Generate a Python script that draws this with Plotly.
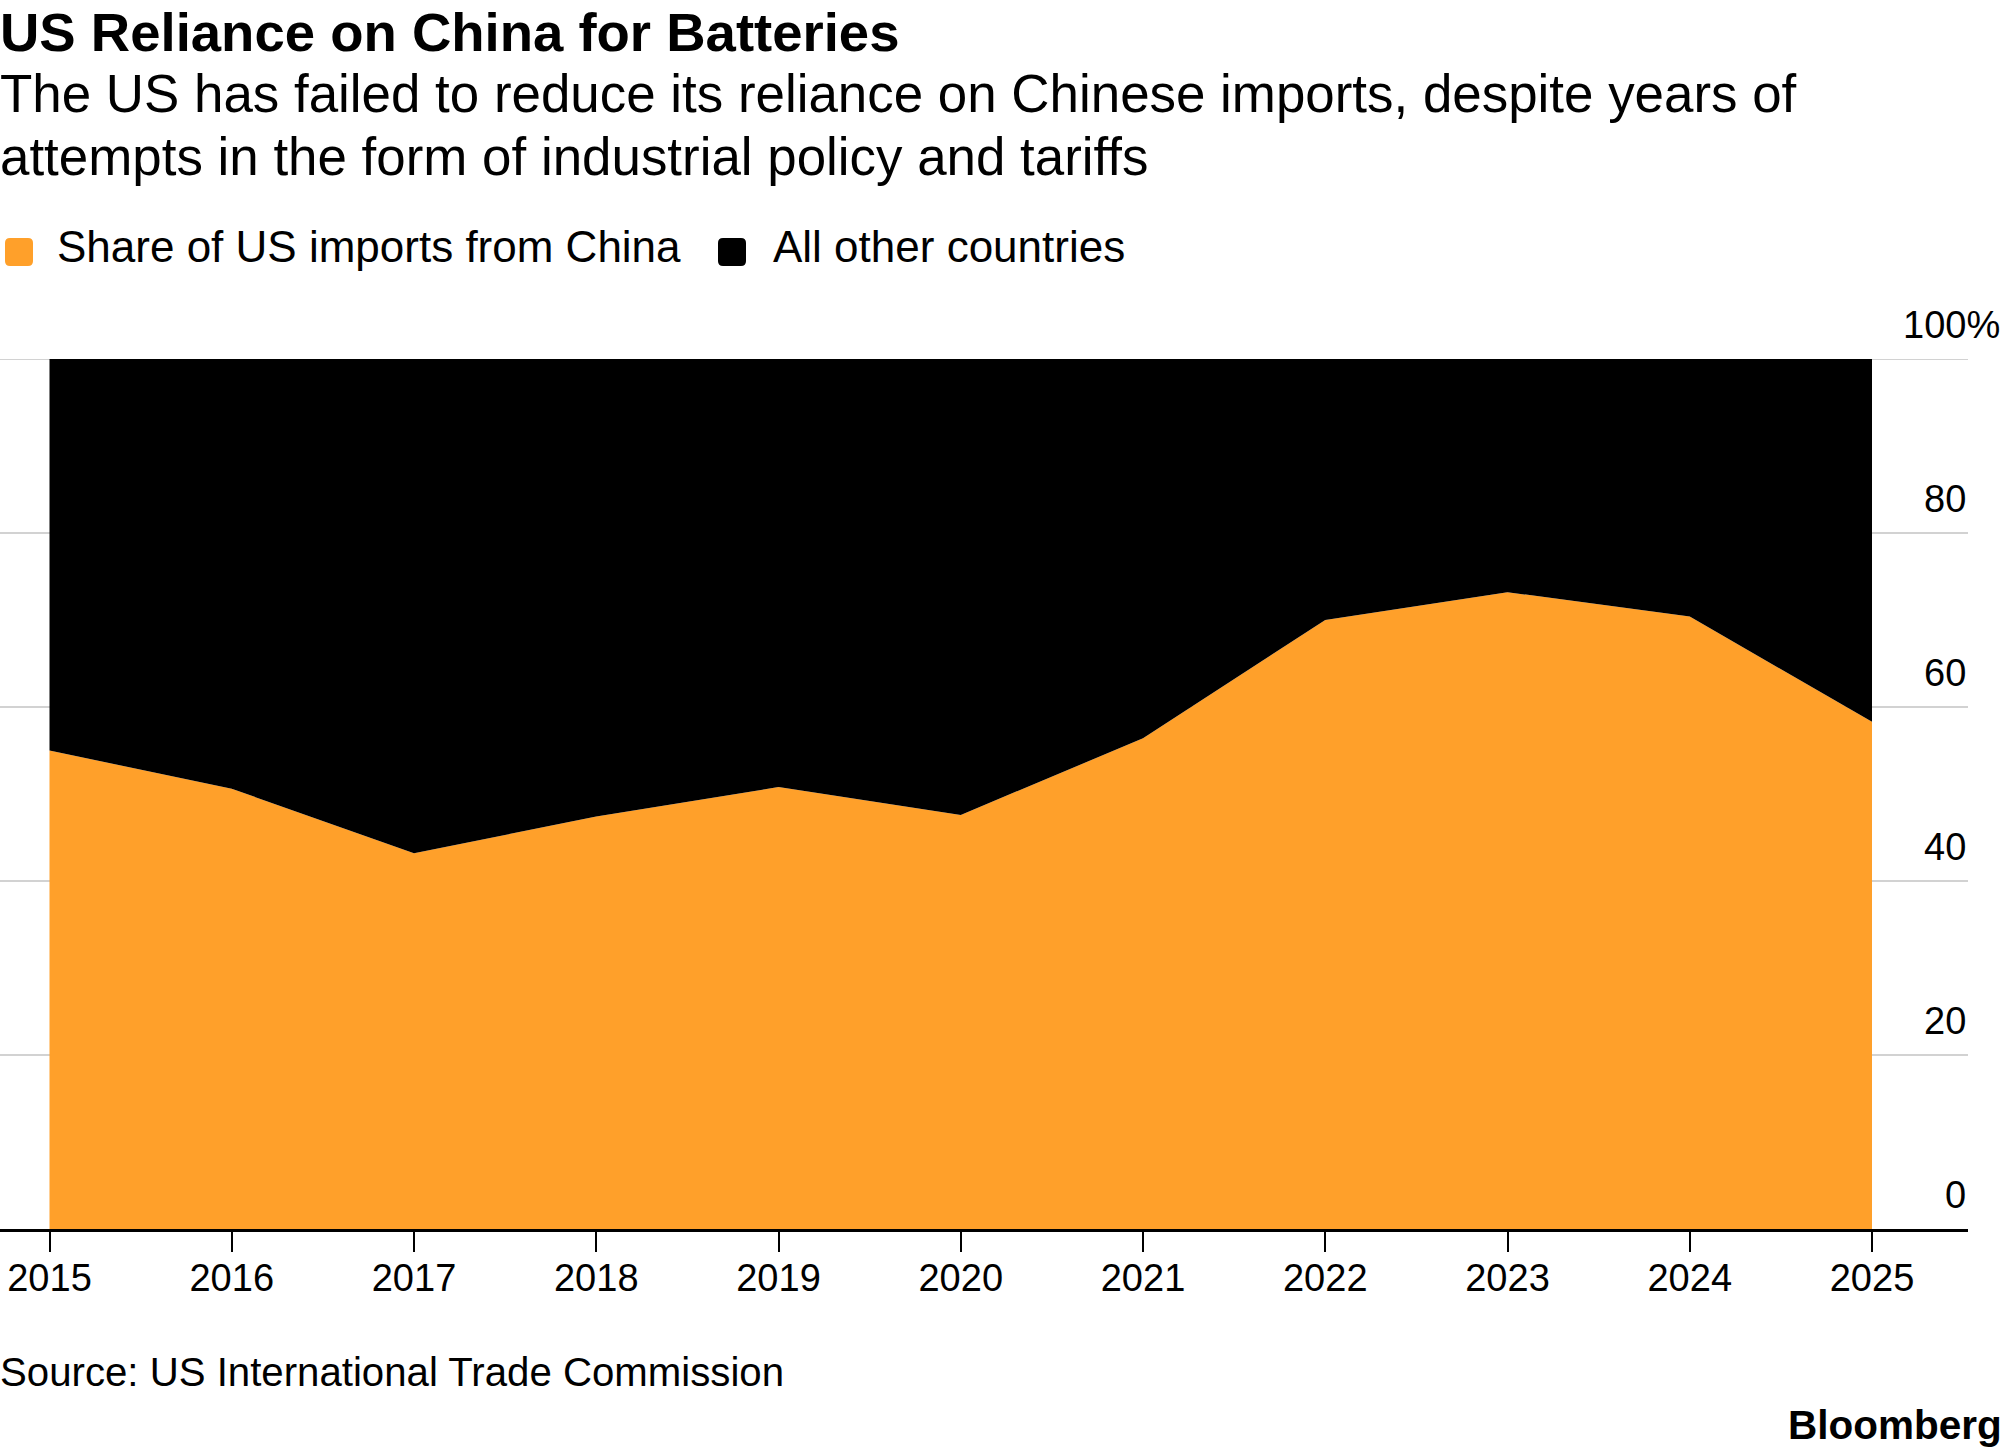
import plotly.graph_objects as go

# ---- data ----
years = [2015, 2016, 2017, 2018, 2019, 2020, 2021, 2022, 2023, 2024, 2025]
china_share = [55.0, 50.6, 43.2, 47.4, 50.8, 47.6, 56.4, 70.0, 73.2, 70.4, 58.3]
other_share = [45.0, 49.4, 56.8, 52.6, 49.2, 52.4, 43.6, 30.0, 26.8, 29.6, 41.7]
series_names = ["Share of US imports from China", "All other countries"]
series_colors = ["#FFA02A", "#000000"]
ytick_vals = [0, 20, 40, 60, 80, 100]
ytick_text = ["0", "20", "40", "60", "80", "100%"]
xtick_text = [str(y) for y in years]

title = "US Reliance on China for Batteries"
subtitle_lines = [
    "The US has failed to reduce its reliance on Chinese imports, despite years of",
    "attempts in the form of industrial policy and tariffs",
]
source = "Source: US International Trade Commission"

# ---- layout geometry (pixels) ----
W, H = 2005, 1455
PL, PR, PT, PB = 0, 1968, 359, 1229   # plot area edges
FONT = "Liberation Sans, Arial, sans-serif"


def xp(px):
    return (px - PL) / (PR - PL)


def yp(py):
    return (PB - py) / (PB - PT)


def rounded_rect(x0, y0, x1, y1, r):
    X0, X1 = xp(x0), xp(x1)
    Y0, Y1 = yp(y0), yp(y1)  # Y0 top, Y1 bottom
    rx = r / (PR - PL)
    ry = r / (PB - PT)
    return (
        f"M {X0+rx},{Y0} L {X1-rx},{Y0} Q {X1},{Y0} {X1},{Y0-ry} "
        f"L {X1},{Y1+ry} Q {X1},{Y1} {X1-rx},{Y1} L {X0+rx},{Y1} "
        f"Q {X0},{Y1} {X0},{Y1+ry} L {X0},{Y0-ry} Q {X0},{Y0} {X0+rx},{Y0} Z"
    )


fig = go.Figure()
fig.add_trace(go.Scatter(
    x=years, y=china_share, name=series_names[0], mode="lines",
    stackgroup="one", line=dict(width=0, color=series_colors[0]),
    fillcolor=series_colors[0], hoverinfo="skip",
))
fig.add_trace(go.Scatter(
    x=years, y=other_share, name=series_names[1], mode="lines",
    stackgroup="one", line=dict(width=0, color=series_colors[1]),
    fillcolor=series_colors[1], hoverinfo="skip",
))

per_year = (1872 - 49.5) / 10.0
x_lo = 2015 - (49.5 - PL) / per_year
x_hi = 2025 + (PR - 1872) / per_year

annotations = []
shapes = []


def text_ann(text, px, py_center, size, anchor="left", bold=False, color="#000000"):
    annotations.append(dict(
        text=f"<b>{text}</b>" if bold else text,
        x=xp(px), y=yp(py_center), xref="paper", yref="paper",
        xanchor=anchor, yanchor="middle", showarrow=False,
        font=dict(family=FONT, size=size, color=color),
    ))


# titles
text_ann(title, -2, 32.0, 54.5, bold=True)
text_ann(subtitle_lines[0], -2, 93.5, 52.9)
text_ann(subtitle_lines[1], -2, 156.7, 52.9)

# legend
leg_sq = [(5, 238, 33, 266), (718, 238, 746, 266)]
leg_tx = [55, 771]
for i in range(2):
    x0, y0, x1, y1 = leg_sq[i]
    shapes.append(dict(type="path", xref="paper", yref="paper",
                       path=rounded_rect(x0, y0, x1, y1, 5),
                       fillcolor=series_colors[i], line=dict(width=0)))
    text_ann(series_names[i], leg_tx[i], 246.5, 44)

# top gridline (range edge) drawn beneath the areas
shapes.append(dict(type="line", xref="paper", yref="y", x0=0, x1=1,
                   y0=ytick_vals[-1], y1=ytick_vals[-1], layer="below",
                   line=dict(color="#d2d2d2", width=2)))

# y tick labels (right side, above gridlines)
for v, t in zip(ytick_vals, ytick_text):
    shift = 34 if t.endswith("%") else 0
    annotations.append(dict(
        text=t, x=1, y=v, xref="paper", yref="y",
        xanchor="right", yanchor="middle", xshift=shift, yshift=34,
        showarrow=False, font=dict(family=FONT, size=38, color="#000000"),
    ))

# source and logo
text_ann(source, -2, 1372.0, 40.2)
text_ann("Bloomberg", 2004, 1424.5, 40.5, anchor="right", bold=True)

fig.update_layout(
    width=W, height=H,
    margin=dict(l=PL, r=W - PR, t=PT, b=H - PB, pad=0),
    paper_bgcolor="#ffffff", plot_bgcolor="#ffffff",
    showlegend=False,
    annotations=annotations, shapes=shapes,
    font=dict(family=FONT, color="#000000"),
    xaxis=dict(
        range=[x_lo, x_hi], tickmode="array", tickvals=years, ticktext=xtick_text,
        ticks="outside", ticklen=20, tickwidth=2, tickcolor="#000000",
        ticklabelstandoff=-6,
        showline=True, linecolor="#000000", linewidth=2.5,
        showgrid=False, zeroline=False,
        tickfont=dict(family=FONT, size=38, color="#000000"),
        fixedrange=True,
    ),
    yaxis=dict(
        range=[0, 100], tickmode="array", tickvals=ytick_vals,
        showticklabels=False, ticks="",
        showgrid=True, gridcolor="#d2d2d2", gridwidth=2,
        zeroline=False, showline=False, fixedrange=True,
    ),
)

fig.write_html("out.html")
